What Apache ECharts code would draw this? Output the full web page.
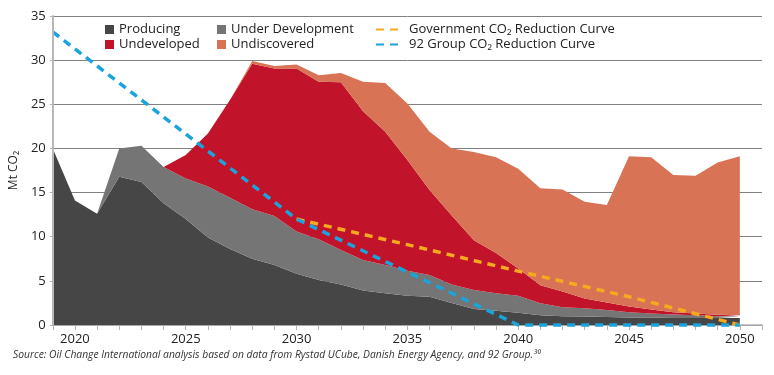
<!DOCTYPE html>
<html>
<head>
<meta charset="utf-8">
<script src="https://cdn.jsdelivr.net/npm/echarts@6/dist/echarts.min.js"></script>
<style>
html,body{margin:0;padding:0;background:#fff;}
#chart{width:774px;height:375px;}
</style>
</head>
<body>
<div id="chart"></div>
<script>
// Categories (years); 2051 only extends the axis
var years = [];
for (var y = 2019; y <= 2051; y++) years.push(String(y));

// Stacked emissions, Mt CO2 (2019..2050)
var producing = [20.0,14.1,12.6,16.8,16.2,13.8,12.0,9.9,8.6,7.5,6.8,5.8,5.1,4.6,3.9,3.6,3.3,3.2,2.5,1.8,1.6,1.4,1.1,1.0,0.95,0.9,0.85,0.85,0.8,0.8,0.8,0.8];
var underDevelopment = [0,0,0,3.2,4.1,4.1,4.6,5.8,5.8,5.6,5.55,4.8,4.6,3.9,3.45,3.2,2.85,2.45,2.1,2.16,2.0,1.9,1.35,1.0,0.95,0.8,0.6,0.45,0.4,0.3,0.2,0.15];
var undeveloped = [null,null,null,null,null,0,2.65,6.0,11.1,16.5,16.7,18.45,17.85,19.0,16.85,15.1,12.55,9.65,7.8,5.64,4.55,3.1,2.05,1.8,1.1,0.85,0.65,0.45,0.25,0.2,0.15,0.15];
var undiscovered = [null,null,null,null,null,null,null,null,0,0.3,0.3,0.45,0.75,1.05,3.35,5.5,6.4,6.6,7.6,10.0,10.85,11.3,11.0,11.55,10.95,11.05,17.0,17.25,15.55,15.6,17.25,18.0];

// Reduction curves (year, value)
var govYears = ['2030','2035','2040','2045','2050'];
var govValues = [12,9.1,6.1,3.2,0];
var g92Years = ['2019','2030','2040','2050'];
var g92Values = [33.2,12,0,0];

var yTicks = {min:0, max:35, interval:5};

function pairs(xs, vs){ return xs.map(function(x,i){ return [x, vs[i]]; }); }

var FONT = '"Open Sans", "DejaVu Sans", sans-serif';
var chart = echarts.init(document.getElementById('chart'), null, {renderer:'canvas'});

function area(name, data, color){
  return {
    name: name, type: 'line', stack: 'total', data: data,
    symbol: 'none', showSymbol: false,
    lineStyle: {width: 0, color: color},
    itemStyle: {color: color},
    areaStyle: {color: color, opacity: 1},
    emphasis: {disabled: true}
  };
}
function dashed(name, data, color){
  return {
    name: name, type: 'line', data: data, connectNulls: true,
    symbol: 'none', showSymbol: false, clip: false, z: 5,
    lineStyle: {width: 3.5, color: color, type: [8, 6]},
    itemStyle: {color: color},
    emphasis: {disabled: true}
  };
}

var legendText = {fontFamily: FONT, fontSize: 13, color: '#222', lineHeight: 15};

chart.setOption({
  animation: false,
  textStyle: {fontFamily: FONT},
  grid: {left: 52, right: 12, top: 16, bottom: 50},
  legend: [
    {left: 105, top: 22, padding: 0, orient: 'vertical', itemGap: 0, itemWidth: 9, itemHeight: 9, icon: 'rect',
     textStyle: legendText, data: ['Producing', 'Undeveloped']},
    {left: 217, top: 22, padding: 0, orient: 'vertical', itemGap: 0, itemWidth: 9, itemHeight: 9, icon: 'rect',
     textStyle: legendText, data: ['Under Development', 'Undiscovered']},
    {left: 375, top: 22, padding: 0, orient: 'vertical', itemGap: 0, itemWidth: 28, itemHeight: 9,
     itemStyle: {opacity: 0},
     textStyle: legendText, data: ['Government CO\u2082 Reduction Curve', '92 Group CO\u2082 Reduction Curve']}
  ],
  xAxis: {
    type: 'category', data: years, boundaryGap: false,
    axisLine: {show: true, lineStyle: {color: '#b3b3b3', width: 1.5}},
    axisTick: {show: true, interval: 0, length: 5, lineStyle: {color: '#b3b3b3'}},
    axisLabel: {interval: function(i, v){ return Number(v) % 5 === 0; }, fontSize: 13, color: '#222', margin: 8, fontFamily: FONT},
    splitLine: {show: false}
  },
  yAxis: [{
    type: 'value', min: yTicks.min, max: yTicks.max, interval: yTicks.interval,
    name: 'Mt CO\u2082', nameLocation: 'middle', nameGap: 26,
    nameTextStyle: {fontSize: 12, color: '#222', fontFamily: FONT},
    axisLine: {show: false},
    axisTick: {show: true, length: 3, lineStyle: {color: '#b3b3b3'}},
    axisLabel: {fontSize: 13, color: '#222', margin: 7, fontFamily: FONT},
    splitLine: {show: true, lineStyle: {color: '#808080', width: 1}}
  }, {
    type: 'value', min: yTicks.min, max: yTicks.max, interval: yTicks.interval, position: 'left', z: 10,
    axisLine: {show: true, lineStyle: {color: '#b8b8b8', width: 2}},
    axisTick: {show: false}, axisLabel: {show: false}, splitLine: {show: false}
  }],
  series: [
    area('Producing', producing, '#464646'),
    area('Under Development', underDevelopment, '#757575'),
    area('Undeveloped', undeveloped, '#C1142B'),
    area('Undiscovered', undiscovered, '#D87355'),
    dashed('Government CO\u2082 Reduction Curve', pairs(govYears, govValues), '#F5A91E'),
    dashed('92 Group CO\u2082 Reduction Curve', pairs(g92Years, g92Values), '#1BA3DB')
  ],
  graphic: [{
    type: 'text', left: 13, top: 350,
    style: {text: 'Source: Oil Change International analysis based on data from Rystad UCube, Danish Energy Agency, and 92 Group.\u00B3\u2070',
            font: 'italic 10.3px ' + FONT, fill: '#333'}
  }]
});
</script>
</body>
</html>
